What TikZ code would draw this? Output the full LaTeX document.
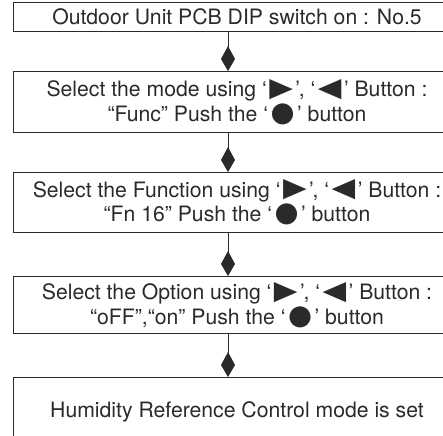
\documentclass[tikz,border=0pt]{standalone}
\usepackage{fontspec}
\setmainfont{TeX Gyre Heros}
\newfontfamily\symfont{DejaVu Sans}
\usetikzlibrary{arrows.meta}
\definecolor{ink}{HTML}{2a2a2a}
\newcommand{\symR}{\kern2.5pt{\symfont\raisebox{0.5pt}{\scalebox{1.45}[1.25]{▶}}}\kern2.5pt}
\newcommand{\symL}{\kern2.5pt{\symfont\raisebox{0.5pt}{\scalebox{1.45}[1.25]{◀}}}\kern2.5pt}
\newcommand{\symDot}{\kern2.5pt{\symfont\scalebox{1.3}{●}}\kern2.5pt}
\tikzset{
  stepbox/.style={draw=ink, line width=1pt, text=ink, inner sep=0pt,
    minimum width=447pt, anchor=north west, align=center,
    font=\fontsize{21.2pt}{24.5pt}\selectfont},
  arr/.style={draw=ink, line width=0.9pt, arrows={-Kite[length=25pt,width=14pt,inset=13pt]}}
}
\begin{document}
\begin{tikzpicture}[x=1pt,y=-1pt]
\useasboundingbox (0,0) rectangle (443,435);
\clip (0,0) rectangle (443,435);
\coordinate (ax) at (228,0);
\node[stepbox, minimum height=29pt] (b1) at (13,2) {Outdoor Unit PCB DIP switch on : No.5};
\node[stepbox, minimum height=61pt] (b2) at (13,71) {Select the mode using ‘\symR’, ‘\symL’ Button :\\“Func” Push the ‘\symDot’ button};
\node[stepbox, minimum height=60pt] (b3) at (13,172) {Select the Function using ‘\symR’, ‘\symL’ Button :\\“Fn 16” Push the ‘\symDot’ button};
\node[stepbox, minimum height=57pt] (b4) at (13,276) {Select the Option using ‘\symR’, ‘\symL’ Button :\\“oFF”,“on” Push the ‘\symDot’ button};
\node[stepbox, minimum height=68pt] (b5) at (13,377) {Humidity Reference Control mode is set};
\draw[arr] (b1.south -| ax) -- (b2.north -| ax);
\draw[arr] (b2.south -| ax) -- (b3.north -| ax);
\draw[arr] (b3.south -| ax) -- (b4.north -| ax);
\draw[arr] (b4.south -| ax) -- (b5.north -| ax);
\end{tikzpicture}
\end{document}
